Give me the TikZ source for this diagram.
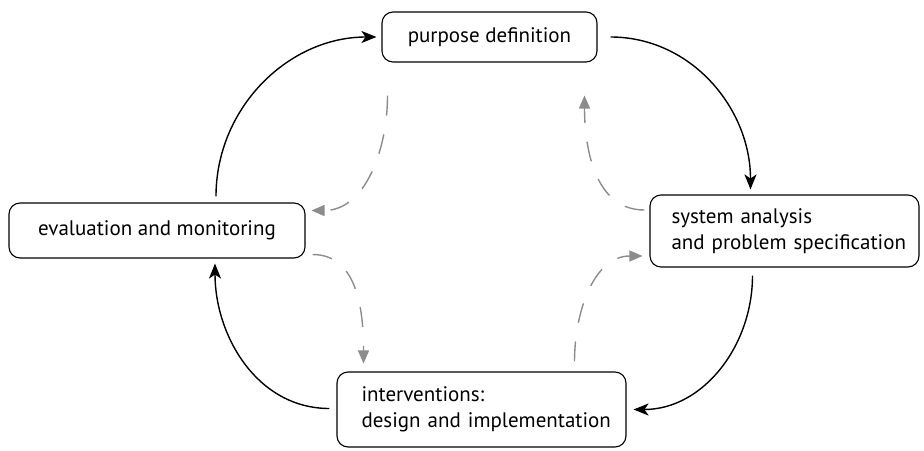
\documentclass[tikz,border=0pt]{standalone}
\usepackage{fontspec}
\setmainfont{PT Sans}
\usetikzlibrary{arrows.meta}
\newcommand{\stagetextsetup}{\hbadness=10000 \hfuzz=100pt\relax}
\begin{document}
\begin{tikzpicture}[x=1pt,y=-1pt,
  stagebox/.style={draw,line width=1.1pt,rounded corners=11pt,inner sep=0pt,
    font=\fontsize{21}{26}\selectfont,execute at begin node=\stagetextsetup},
  cycle/.style={line width=1.4pt,-{Stealth[length=15pt,width=12pt,inset=4pt]}},
  feedback/.style={line width=1.4pt,draw=black!45,dash pattern=on 20pt off 19pt,
    -{Triangle[length=13pt,width=11pt,fill=black!45]}}]
\useasboundingbox (0,0) rectangle (924,450);
% stages of the cycle
\node[stagebox,minimum width=215pt,minimum height=50pt] (pd) at (489.5,37) {purpose definition};
\node[stagebox,minimum width=269pt,minimum height=72pt,align=left,text width=226pt] (sa) at (784.5,231)
  {\mbox{system analysis}\\\mbox{and problem specification}};
\node[stagebox,minimum width=289pt,minimum height=75pt,align=left,text width=240pt] (iv) at (481.5,409.5)
  {\mbox{interventions:}\\\mbox{design and implementation}};
\node[stagebox,minimum width=296pt,minimum height=55pt] (ev) at (157,230.5) {evaluation and monitoring};
% main cycle
\draw[cycle] ([xshift=59pt,yshift=6pt]ev.north) to[out=90,in=180] ([xshift=-5pt]pd.west);
\draw[cycle] ([xshift=13pt]pd.east) to[out=0,in=90] ([xshift=-34pt,yshift=5pt]sa.north);
\draw[cycle] ([xshift=-32pt,yshift=-8pt]sa.south) to[out=-90,in=0] ([xshift=7pt]iv.east);
\draw[cycle] ([xshift=-7pt,yshift=1pt]iv.west) to[out=180,in=-90] ([xshift=58pt,yshift=-5pt]ev.south);
% feedback paths
\draw[feedback] ([xshift=-102pt,yshift=-33pt]pd.south) to[out=-90,in=0] ([xshift=6pt,yshift=20pt]ev.east);
\draw[feedback] ([xshift=-5pt,yshift=21pt]sa.west) to[out=180,in=-90] ([xshift=95pt,yshift=-33pt]pd.south);
\draw[feedback] ([xshift=7pt,yshift=-24pt]ev.east) to[out=0,in=90] ([xshift=-118pt,yshift=8pt]iv.north);
\draw[feedback] ([xshift=93pt,yshift=10pt]iv.north) to[out=90,in=180] ([xshift=-7pt,yshift=-25pt]sa.west);
\end{tikzpicture}
\end{document}
